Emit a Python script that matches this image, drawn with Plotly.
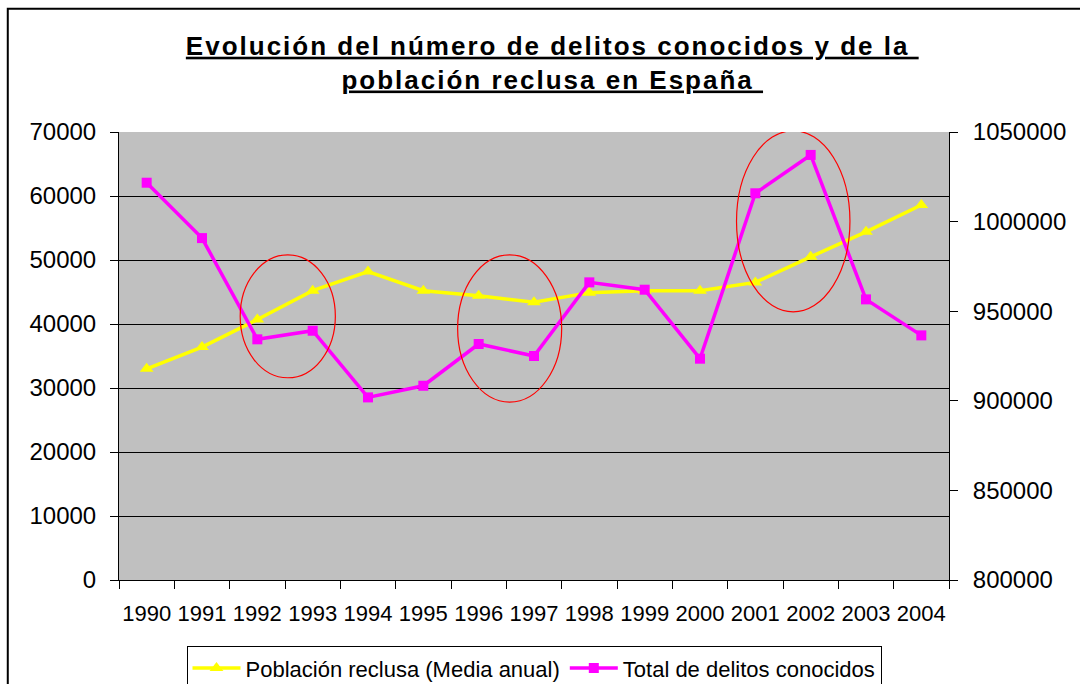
import plotly.graph_objects as go

years = ["1990", "1991", "1992", "1993", "1994", "1995", "1996", "1997",
         "1998", "1999", "2000", "2001", "2002", "2003", "2004"]
poblacion_reclusa = [33000, 36400, 40700, 45200, 48200, 45200, 44400, 43400,
                     44900, 45200, 45200, 46500, 50500, 54400, 58600]
delitos_conocidos = [1021700, 990800, 934300, 939100, 901900, 908400, 931700, 925000,
                     966100, 962000, 923500, 1015800, 1037200, 956600, 936500]

name_pob = "Población reclusa (Media anual)"
name_del = "Total de delitos conocidos"
title_lines = ["Evolución del número de delitos conocidos y de la ",
               "población reclusa en España "]

FONT = "Liberation Sans, Arial, sans-serif"

fig = go.Figure()
fig.add_trace(go.Scatter(
    x=years, y=poblacion_reclusa, name=name_pob, mode="lines+markers",
    line=dict(color="#FFFF00", width=3.5),
    marker=dict(symbol="triangle-up", size=12, color="#FFFF00"),
    yaxis="y"))
fig.add_trace(go.Scatter(
    x=years, y=delitos_conocidos, name=name_del, mode="lines+markers",
    line=dict(color="#FF00FF", width=3.5),
    marker=dict(symbol="square", size=10, color="#FF00FF"),
    yaxis="y2"))

# red ellipses highlighting periods (category index coordinates, left axis values)
ellipses = [(1.69, 3.41, 31600, 50800), (5.62, 7.50, 27800, 50800), (10.66, 12.71, 41900, 70200)]
for x0, x1, y0, y1 in ellipses:
    fig.add_shape(type="circle", xref="x", yref="y", x0=x0, x1=x1, y0=y0, y1=y1,
                  line=dict(color="#FF0000", width=1.2), layer="above")

# outer frame
fig.add_shape(type="rect", xref="paper", yref="paper",
              x0=-0.134, x1=1.3, y0=-0.4, y1=1.275,
              line=dict(color="black", width=2), layer="above")

title_html = "<br>".join(
    '<span style="text-decoration:underline;letter-spacing:2px">'
    + t.replace(" ", "&nbsp;") + "</span>"
    for t in title_lines)

fig.update_layout(
    width=1080, height=684,
    margin=dict(l=119, r=131, t=132, b=104, autoexpand=False),
    paper_bgcolor="white", plot_bgcolor="#C0C0C0",
    font=dict(family=FONT, color="black", size=22),
    title=dict(text="<b>" + title_html + "</b>", x=0.522, xref="paper", xanchor="center",
               y=0.92, yanchor="top", font=dict(size=26, family=FONT)),
    showlegend=True,
    legend=dict(orientation="h", x=0.5, xanchor="center", y=-0.148, yanchor="top",
                bordercolor="black", borderwidth=1, bgcolor="white",
                font=dict(size=22, family=FONT), itemwidth=48,
                traceorder="normal"),
    xaxis=dict(type="category", tickson="boundaries", ticks="outside", ticklen=8,
               tickcolor="black", showline=True, linecolor="black", linewidth=1,
               showgrid=False, tickfont=dict(size=22), tickangle=0, automargin=False,
               ticklabelstandoff=14, range=[-0.5, 14.5]),
    yaxis=dict(range=[0, 70000], dtick=10000, ticks="outside", ticklen=8,
               tickcolor="black", showline=True, linecolor="black", linewidth=1,
               showgrid=True, gridcolor="black", gridwidth=1, zeroline=False,
               tickfont=dict(size=24), tickformat="d", automargin=False,
               ticklabelstandoff=9),
    yaxis2=dict(range=[800000, 1050000], dtick=50000, overlaying="y", side="right",
                ticks="outside", ticklen=8, tickcolor="black", showline=True,
                linecolor="black", linewidth=1, showgrid=False, zeroline=False,
                tickfont=dict(size=24), tickformat="d", automargin=False,
                ticklabelstandoff=10),
)

fig.write_html("out.html", config={"displayModeBar": False},
               post_script="document.body.style.margin='0px';")
